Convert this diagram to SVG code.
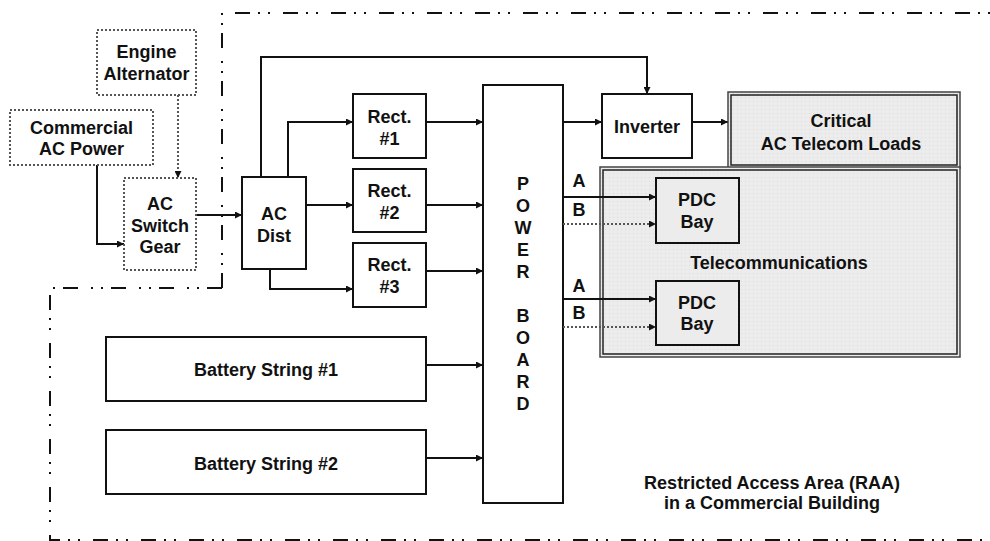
<svg xmlns="http://www.w3.org/2000/svg" width="990" height="541" viewBox="0 0 990 541">
<defs>
<marker id="ah" viewBox="0 0 10 10" refX="10" refY="5" markerWidth="7" markerHeight="7" markerUnits="userSpaceOnUse" orient="auto"><path d="M0,0 L10,5 L0,10 z" fill="#111"/></marker>
<pattern id="dots" width="4" height="4" patternUnits="userSpaceOnUse"><rect width="4" height="4" fill="#ececec"/><rect x="1" y="1" width="1" height="1" fill="#dcdcdc"/></pattern>
</defs>
<style>
text{font-family:"Liberation Sans",Arial,sans-serif;font-size:18px;font-weight:bold;fill:#111;text-anchor:middle}
.box{fill:#fff;stroke:#111;stroke-width:2}
.dbox{fill:#fff;stroke:#555;stroke-width:2;stroke-dasharray:2 2}
.shade{fill:url(#dots);stroke:#444;stroke-width:1.5}
.inner{fill:none;stroke:#222;stroke-width:1.5}
.ln{fill:none;stroke:#111;stroke-width:2;marker-end:url(#ah)}
.dl{fill:none;stroke:#555;stroke-width:2;stroke-dasharray:2 2;marker-end:url(#ah)}
.raa{fill:none;stroke:#111;stroke-width:2;stroke-dasharray:15 8 2 8 2 13}
</style>
<g id="raa-boundary">
<path class="raa" d="M222,288 L222,13 L990,13"/>
<path class="raa" d="M222,288 L50,288"/>
<path class="raa" d="M50,295 L50,540 L990,540"/>
<text x="772" y="489">Restricted Access Area (RAA)</text>
<text x="772" y="509">in a Commercial Building</text>
</g>
<g id="connectors">
<path class="dl" d="M178,95 L178,178"/>
<path class="ln" d="M97,165 L97,244 L124,244"/>
<path class="ln" d="M197,215 L242,215"/>
<path class="ln" d="M261,177 L261,57 L647,57 L647,94"/>
<path class="ln" d="M288,177 L288,122 L353,122"/>
<path class="ln" d="M306,205 L353,205"/>
<path class="ln" d="M270,269 L270,289 L353,289"/>
<path class="ln" d="M426,122 L483,122"/>
<path class="ln" d="M426,205 L483,205"/>
<path class="ln" d="M426,271 L483,271"/>
<path class="ln" d="M426,365 L483,365"/>
<path class="ln" d="M426,458 L483,458"/>
<path class="ln" d="M563,122 L602,122"/>
<path class="ln" d="M692,122 L728,122"/>
</g>
<g id="engine-alternator"><rect class="dbox" x="97" y="30" width="99" height="65"/><text x="146.5" y="58">Engine</text><text x="146.5" y="80">Alternator</text></g>
<g id="commercial-ac"><rect class="dbox" x="10" y="110" width="143" height="55"/><text x="81.5" y="134">Commercial</text><text x="81.5" y="155">AC Power</text></g>
<g id="ac-switch-gear"><rect class="dbox" x="124" y="178" width="72" height="92"/><text x="160" y="210">AC</text><text x="160" y="232">Switch</text><text x="160" y="253">Gear</text></g>
<g id="ac-dist"><rect class="box" x="242" y="177" width="64" height="92"/><text x="274" y="220">AC</text><text x="274" y="242">Dist</text></g>
<g id="rect1"><rect class="box" x="353" y="94" width="73" height="64"/><text x="389.5" y="123">Rect.</text><text x="389.5" y="145">#1</text></g>
<g id="rect2"><rect class="box" x="353" y="169" width="73" height="63"/><text x="389.5" y="197">Rect.</text><text x="389.5" y="219">#2</text></g>
<g id="rect3"><rect class="box" x="353" y="243" width="73" height="64"/><text x="389.5" y="271">Rect.</text><text x="389.5" y="293">#3</text></g>
<g id="battery1"><rect class="box" x="106" y="337" width="320" height="64"/><text x="266" y="376">Battery String #1</text></g>
<g id="battery2"><rect class="box" x="106" y="430" width="320" height="64"/><text x="266" y="470">Battery String #2</text></g>
<g id="power-board"><rect class="box" x="483" y="85" width="80" height="418"/>
<text x="523" y="190">P</text><text x="523" y="212">O</text><text x="523" y="234">W</text><text x="523" y="256">E</text><text x="523" y="278">R</text>
<text x="523" y="322">B</text><text x="523" y="344">O</text><text x="523" y="366">A</text><text x="523" y="388">R</text><text x="523" y="410">D</text></g>
<g id="inverter"><rect class="box" x="602" y="94" width="90" height="64"/><text x="647" y="133">Inverter</text></g>
<g id="critical-loads"><rect class="shade" x="728" y="92" width="232" height="76"/><rect class="inner" x="731" y="95" width="226" height="70"/><text x="841" y="127">Critical</text><text x="841" y="150">AC Telecom Loads</text></g>
<g id="telecommunications"><rect class="shade" x="600" y="167" width="360" height="190"/><rect class="inner" x="603" y="170" width="354" height="184"/><text x="779" y="269">Telecommunications</text></g>
<g id="feeds">
<path class="ln" d="M563,197 L656,197"/>
<path class="dl" d="M563,224 L656,224"/>
<path class="ln" d="M563,299 L656,299"/>
<path class="dl" d="M563,327 L656,327"/>
<text x="579" y="187">A</text><text x="579" y="216">B</text><text x="579" y="292">A</text><text x="579" y="319">B</text>
</g>
<g id="pdc1"><rect class="box" x="656" y="178" width="83" height="65" style="fill:#ececec"/><text x="697" y="206">PDC</text><text x="697" y="228">Bay</text></g>
<g id="pdc2"><rect class="box" x="656" y="281" width="83" height="64" style="fill:#ececec"/><text x="697" y="309">PDC</text><text x="697" y="330">Bay</text></g>
</svg>
